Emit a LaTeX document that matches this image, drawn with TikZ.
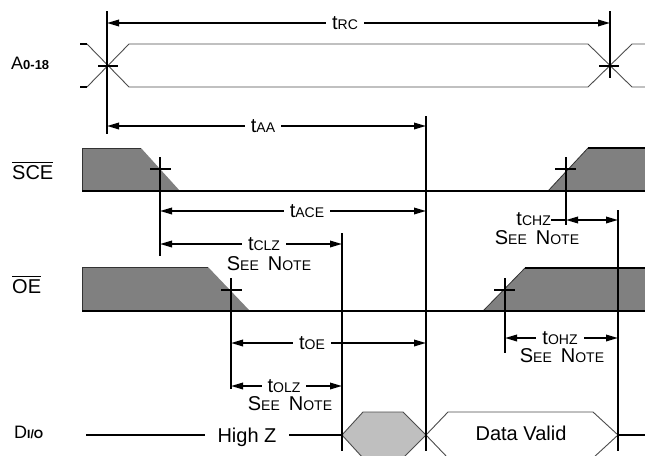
\documentclass[tikz,border=0pt]{standalone}
\usepackage{fontspec}
\setmainfont{Liberation Sans}
\usetikzlibrary{arrows.meta}
\newcommand\smallsz{\fontsize{14}{14}\selectfont}
\newcommand\tlab[1]{t{\smallsz #1}}
\newcommand\seenote{S{\smallsz EE}\hspace{0.45em}N{\smallsz OTE}}
\newcommand\ovl[1]{\leavevmode\vbox{\hrule height 1.3pt\kern2pt\hbox{#1}}}
\begin{document}
\begin{tikzpicture}[x=1pt,y=-1pt,
  thickline/.style={line width=1.8pt, draw=black},
  bus/.style={line width=0.9pt, draw=black!70},
  endtick/.style={line width=1.4pt, draw=black},
  crosstick/.style={line width=1.8pt, draw=black},
  dim/.style={line width=1.8pt, {Triangle[length=12pt,width=6.5pt]}-{Triangle[length=12pt,width=6.5pt]}},
  lab/.style={fill=white, inner xsep=6pt, inner ysep=1pt, font=\fontsize{20}{22}\selectfont},
  note/.style={inner sep=0pt, anchor=base, font=\fontsize{20}{22}\selectfont},
  sig/.style={inner sep=0pt, anchor=base west, font=\fontsize{20}{22}\selectfont},
  shadeA/.style={fill=black!50},
  outl/.style={line width=0.8pt, draw=black!80},
  hex/.style={line width=0.9pt, draw=black!70},
]
\useasboundingbox (0,0) rectangle (645,455);

% ---------- signal names ----------
\node[sig, font=\fontsize{18}{20}\selectfont] (lA) at (11,69) {A{\fontsize{13}{13}\selectfont\bfseries 0-18}};
\node[sig] (lSCE) at (12,179) {\ovl{SCE}};
\node[sig] (lOE) at (12,293) {\ovl{OE}};
\node[sig, font=\fontsize{18}{20}\selectfont] (lD) at (14,438) {D{\fontsize{12}{12}\selectfont\bfseries I/O}};

% ---------- address bus ----------
\draw[bus] (87,44) -- (129,87) -- (588,87) -- (632,44) -- (645,44);
\draw[bus] (87,87) -- (129,44) -- (588,44) -- (632,87) -- (645,87);
\draw[endtick] (80,44) -- (87,44);
\draw[endtick] (80,87) -- (87,87);

% ---------- SCE ----------
\fill[shadeA] (82,191) -- (82,148) -- (141,148) -- (180,191) -- cycle;
\draw[outl] (82,191) -- (82,148) -- (141,148);
\fill[shadeA] (548,191) -- (588,148) -- (645,148) -- (645,191) -- cycle;
\draw[outl] (548,191) -- (588,148);
\draw[thickline] (588,148) -- (645,148);
\draw[thickline] (82,191) -- (645,191);

% ---------- OE ----------
\fill[shadeA] (82,311) -- (82,267) -- (208,267) -- (250,311) -- cycle;
\draw[outl] (82,311) -- (82,267) -- (208,267);
\fill[shadeA] (483,311) -- (525,268) -- (645,268) -- (645,311) -- cycle;
\draw[outl] (483,311) -- (525,268);
\draw[thickline] (525,268) -- (645,268);
\draw[thickline] (82,311) -- (645,311);

% ---------- data bus ----------
\begin{scope}
\clip (0,0) rectangle (645,455);
\filldraw[hex, fill=black!25] (342,435) -- (363,412) -- (403,412) -- (426,435) -- (403,458) -- (363,458) -- cycle;
\filldraw[hex, fill=white] (426,435) -- (448,412) -- (593,412) -- (618,435) -- (593,458) -- (448,458) -- cycle;
\end{scope}
\draw[thickline] (86,435) -- (342,435);
\draw[thickline] (618,435) -- (645,435);
\node[note, fill=white, inner xsep=13pt, inner ysep=2pt] (hz) at (247,442) {High Z};
\node[note] (dv) at (521,440) {Data Valid};

% ---------- vertical reference lines ----------
\draw[thickline] (107,11) -- (107,134);
\draw[thickline] (610,11) -- (610,78);
\draw[thickline] (426,116) -- (426,451);
\draw[thickline] (160,157) -- (160,256);
\draw[thickline] (566,157) -- (566,225);
\draw[thickline] (342,233) -- (342,451);
\draw[thickline] (618,210) -- (618,451);
\draw[thickline] (231,278) -- (231,389);
\draw[thickline] (505,278) -- (505,353);

% ---------- crossing ticks ----------
\draw[crosstick] (98,66) -- (118,66);
\draw[crosstick] (599,66) -- (619,66);
\draw[crosstick] (150,169) -- (171,169);
\draw[crosstick] (555,169) -- (576,169);
\draw[crosstick] (221,290) -- (242,290);
\draw[crosstick] (494,290) -- (515,290);

% ---------- dimensions ----------
\draw[dim] (107,23) -- (610,23);
\node[lab] (trc) at (345,23) {\tlab{RC}};

\draw[dim] (107,126) -- (426,126);
\node[lab] (taa) at (263,126) {\tlab{AA}};

\draw[dim] (160,211) -- (426,211);
\node[lab] (tace) at (307,211) {\tlab{ACE}};

\draw[dim] (160,244) -- (342,244);
\node[lab] (tclz) at (264,244) {\tlab{CLZ}};
\node[note] (nclz) at (269,270) {\seenote};

\draw[dim] (566,220) -- (618,220);
\node[lab, inner xsep=0pt, inner ysep=0pt, anchor=east] (tchz) at (551,219) {\tlab{CHZ}};
\draw[thickline] (tchz.east |- 0,220) -- (566,220);
\node[note] (nchz) at (537,244) {\seenote};

\draw[dim] (231,343) -- (426,343);
\node[lab] (toe) at (312,343) {\tlab{OE}};

\draw[dim] (231,386) -- (342,386);
\node[lab] (tolz) at (284,386) {\tlab{OLZ}};
\node[note] (nolz) at (290,410) {\seenote};

\draw[dim] (505,338) -- (618,338);
\node[lab] (tohz) at (560,338) {\tlab{OHZ}};
\node[note] (nohz) at (562,362) {\seenote};
\end{tikzpicture}
\end{document}
